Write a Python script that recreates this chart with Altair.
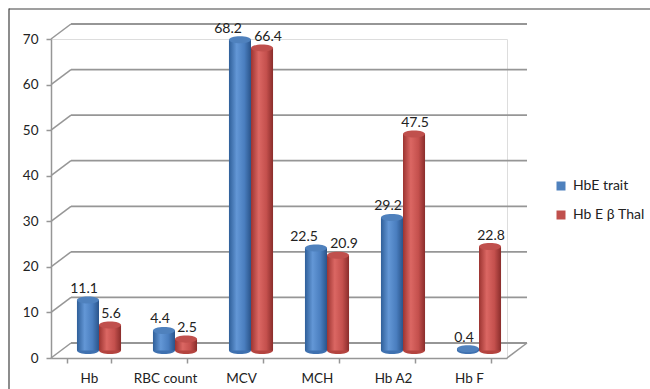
import altair as alt
import pandas as pd

categories = ["Hb", "RBC count", "MCV", "MCH", "Hb A2", "Hb F"]
series_names = ["HbE trait", "Hb E β Thal"]
hbe_trait = [11.1, 4.4, 68.2, 22.5, 29.2, 0.4]
hbe_bthal = [5.6, 2.5, 66.4, 20.9, 47.5, 22.8]
y_ticks = [0, 10, 20, 30, 40, 50, 60, 70]
crowded = ["MCV", "MCH"]   # label pairs that Excel pushes apart

rows = []
for c, a, b in zip(categories, hbe_trait, hbe_bthal):
    rows.append({"category": c, "series": series_names[0], "value": a})
    rows.append({"category": c, "series": series_names[1], "value": b})
df = pd.DataFrame(rows)
grid_df = pd.DataFrame({"tick": y_ticks})
floor_df = pd.DataFrame({"tick": [0]})
frame_df = pd.DataFrame({"k": [0]})

W, H = 456, 319
DX, DY = 20, -15          # 3D depth offset of back wall
BX, BY = 10, -7.5          # bar offset (middle depth)
BAND = 44.08
FONT = "Lato"
GRID = "#969696"
ELLIPSE = "M-1,0 A1,0.32,0,1,1,1,0 A1,0.32,0,1,1,-1,0 Z"

xscale = alt.Scale(domain=categories, paddingInner=0.42, paddingOuter=0.21)
yscale = alt.Scale(domain=[0, 70], nice=False, zero=True)
offscale = alt.Scale(domain=series_names, range=[BX, BX + BAND], paddingInner=0, paddingOuter=0)

x_axis = alt.Axis(title=None, labelFont=FONT, labelFontSize=13.5, labelColor="#222",
                  tickBand="extent", tickSize=5, tickColor=GRID, domainColor=GRID,
                  domainWidth=1.5, tickWidth=1.5, labelPadding=8, labelAngle=0, grid=False)
y_axis = alt.Axis(title=None, values=y_ticks, labelFont=FONT, labelFontSize=13.5,
                  labelColor="#222", tickSize=5, tickColor=GRID, domainColor=GRID,
                  domainWidth=1.5, tickWidth=1.5, labelPadding=8, grid=False)

enc_x = alt.X("category:N", sort=categories, scale=xscale, axis=x_axis)
enc_off = alt.XOffset("series:N", scale=offscale)

# outer chart frame drawn as thin filled strips (no stroke)
frame_top = alt.Chart(frame_df).mark_rect(fill="#404040", strokeWidth=0).encode(
    x=alt.value(-42), x2=alt.value(W + 160), y=alt.value(-30.6), y2=alt.value(-29.4))
frame_left = alt.Chart(frame_df).mark_rect(fill="#404040", strokeWidth=0).encode(
    x=alt.value(-42.6), x2=alt.value(-41.4), y=alt.value(-30.6), y2=alt.value(H + 40))

back_grid = alt.Chart(grid_df).mark_rule(color=GRID, strokeWidth=1.8, yOffset=DY, y2Offset=DY).encode(
    y=alt.Y("tick:Q", scale=yscale, axis=y_axis), y2=alt.Y2("tick:Q"),
    x=alt.value(DX), x2=alt.value(W + DX))

diag = alt.Chart(grid_df).mark_rule(color=GRID, strokeWidth=1.5, y2Offset=DY).encode(
    y=alt.Y("tick:Q", scale=yscale, axis=y_axis), y2=alt.Y2("tick:Q"),
    x=alt.value(0), x2=alt.value(DX))

floor_right = alt.Chart(floor_df).mark_rule(color=GRID, strokeWidth=1.5, y2Offset=DY).encode(
    y=alt.Y("tick:Q", scale=yscale, axis=y_axis), y2=alt.Y2("tick:Q"),
    x=alt.value(W), x2=alt.value(W + DX))

def grad(stops):
    return alt.LinearGradient(gradient="linear", x1=0, x2=1, y1=0, y2=0,
                              stops=[alt.GradientStop(color=c, offset=o) for o, c in stops])

blue_grad = grad([(0, "#2F5F99"), (0.35, "#6397D6"), (0.7, "#4A7EBF"), (1, "#2A548A")])
red_grad = grad([(0, "#9C3431"), (0.35, "#DB6763"), (0.7, "#C4504D"), (1, "#8A2D2B")])
body_mid = {series_names[0]: "#3F71B0", series_names[1]: "#B4443F"}
grads = {series_names[0]: blue_grad, series_names[1]: red_grad}

layers = [frame_top, frame_left, back_grid, diag, floor_right]

base = alt.Chart(df)

for s in series_names:
    bottom = base.transform_filter(alt.datum.series == s).transform_calculate(base="0").mark_point(
        shape=ELLIPSE, size=484, filled=True, opacity=1, color=body_mid[s], yOffset=BY
    ).encode(x=enc_x, xOffset=enc_off, y=alt.Y("base:Q", scale=yscale, axis=y_axis))
    bar = base.transform_filter(alt.datum.series == s).mark_bar(
        color=grads[s], yOffset=BY, y2Offset=BY
    ).encode(x=enc_x, xOffset=enc_off, y=alt.Y("value:Q", scale=yscale, axis=y_axis))
    layers += [bottom, bar]

top = base.mark_point(shape=ELLIPSE, size=484, filled=True, opacity=1, yOffset=BY).encode(
    x=enc_x, xOffset=enc_off,
    y=alt.Y("value:Q", scale=yscale, axis=y_axis),
    color=alt.Color("series:N", scale=alt.Scale(domain=series_names, range=["#4F81BD", "#C0504D"]),
                    legend=alt.Legend(title=None, orient="none", legendX=503, legendY=140,
                                      symbolType="square", symbolSize=81, labelFont=FONT,
                                      labelFontSize=14, labelColor="#222", rowPadding=15,
                                      labelOffset=5, symbolStrokeWidth=0)))
layers.append(top)

label_nudges = [(series_names[0], False, -4), (series_names[1], False, 1),
                (series_names[0], True, -12), (series_names[1], True, 6)]
for s, is_crowded, dx in label_nudges:
    pred = alt.FieldOneOfPredicate(field="category", oneOf=crowded)
    lab = base.transform_filter(alt.datum.series == s).transform_filter(
        pred if is_crowded else {"not": pred}
    ).mark_text(font=FONT, fontSize=14, color="#222", baseline="bottom", dy=-4,
                dx=dx, yOffset=BY).encode(
        x=enc_x, xOffset=enc_off, y=alt.Y("value:Q", scale=yscale, axis=y_axis),
        text=alt.Text("value:Q", format=".1f"))
    layers.append(lab)

chart = alt.layer(*layers).properties(
    width=W, height=H,
    autosize=alt.AutoSizeParams(type="none"),
    padding={"left": 51, "top": 39, "right": 143, "bottom": 31},
).configure_view(stroke=None).configure(background="white")

chart.save("out.html", embed_options={"renderer": "svg", "actions": False})
